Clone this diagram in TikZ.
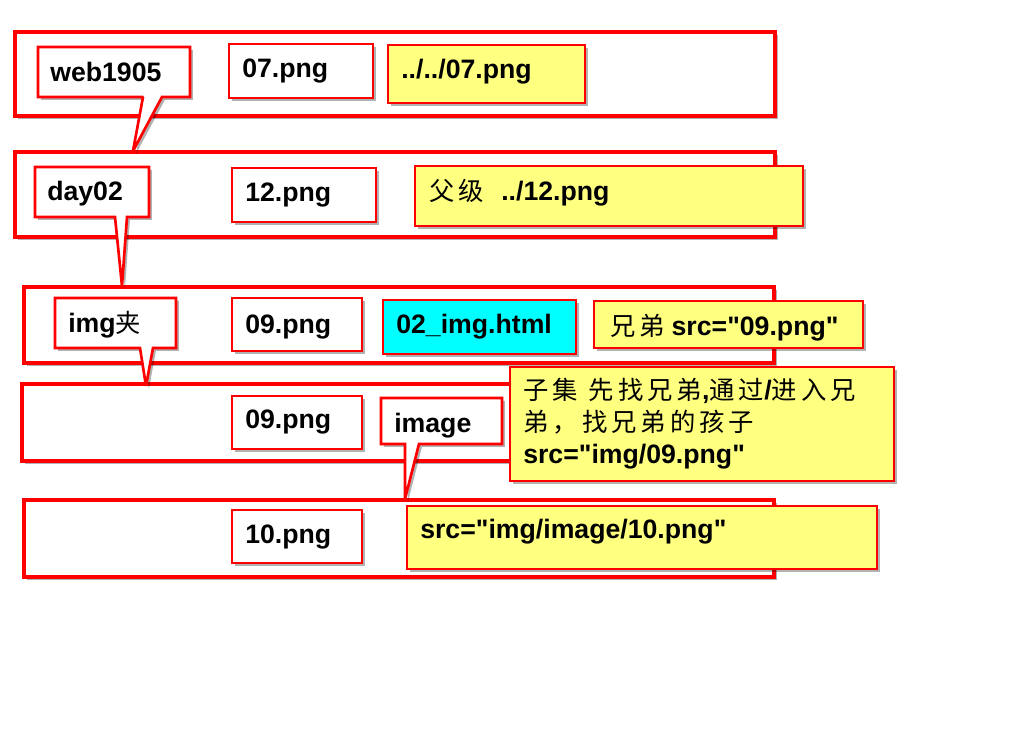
\documentclass[tikz,border=0pt]{standalone}
\usepackage{fontspec}
\setmainfont{Liberation Sans}[Ligatures=TeXOff]
\newfontfamily\cjk{Noto Sans CJK SC}[LetterSpace=16]
\usetikzlibrary{shadows,fit}
\definecolor{boxred}{RGB}{255,0,0}
\definecolor{noteyellow}{RGB}{255,255,128}
\definecolor{cyanfill}{RGB}{0,255,255}
\tikzset{
  shade1/.style={drop shadow={shadow xshift=2.2pt, shadow yshift=-2.2pt, opacity=0.3, fill=black}},
  rowbox/.style={draw=boxred, line width=2.3pt, fill=white, inner sep=0pt, shade1},
  wbox/.style={draw=boxred, line width=2pt, fill=white, inner sep=0pt, shade1},
  ybox/.style={wbox, fill=noteyellow},
  cbox/.style={wbox, fill=cyanfill},
  callout/.style={draw=boxred, line width=2pt, fill=white, line join=miter, miter limit=1.5, shade1},
  txt/.style={anchor=base west, inner sep=0pt, font=\fontsize{20}{24}\selectfont\bfseries},
  ctxt/.style={anchor=base west, inner sep=0pt, font=\fontsize{19}{24}\selectfont\cjk},
}
\begin{document}
\begin{tikzpicture}[x=0.75pt, y=-0.75pt]
\path[fill=white, use as bounding box] (0,0) rectangle (1024,728);

% rows
\node[rowbox, fit={(15,32) (775,116)}] (row1) {};
\node[rowbox, fit={(15,152) (775,237)}] (row2) {};
\node[rowbox, fit={(24,287) (774,363)}] (row3) {};
\node[rowbox, fit={(22,384) (774,461)}] (row4) {};
\node[rowbox, fit={(24,500) (774,577)}] (row5) {};

% callouts
\coordinate (tip1) at (133,151);
\draw[callout] (38,47) -- (190,47) -- (190,97) -- (162,97) -- (tip1) -- (143,97) -- (38,97) -- cycle;
\node[txt] (web) at (50,81) {web1905};

\coordinate (tip2) at (122,286);
\draw[callout] (35,167) -- (149,167) -- (149,217) -- (127,217) -- (tip2) -- (115,217) -- (35,217) -- cycle;
\node[txt] (day) at (47,200) {day02};

\coordinate (tip3) at (146,386);
\draw[callout] (55,298) -- (176,298) -- (176,348) -- (153,348) -- (tip3) -- (140,348) -- (55,348) -- cycle;
\node[txt] (imgj) at (68,332) {img{\mdseries\cjk\fontsize{19}{24}\selectfont 夹}};

\coordinate (tip4) at (405,499);
\draw[callout] (381,398) -- (502,398) -- (502,444) -- (419,444) -- (tip4) -- (405,444) -- (381,444) -- cycle;
\node[txt] (imagec) at (394,432) {image};

% row 1
\node[wbox, fit={(229,44) (373,98)}] (b07) {};
\node[txt] (t07) at (242,77) {07.png};
\node[ybox, fit={(388,45) (585,103)}] (y07) {};
\node[txt] (ty07) at (401,78) {../../07.png};

% row 2
\node[wbox, fit={(232,168) (376,222)}] (b12) {};
\node[txt] (t12) at (245,201) {12.png};
\node[ybox, fit={(415,166) (803,226)}] (y12) {};
\node[txt] (ty12) at (429,200) {{\mdseries\cjk\fontsize{19}{24}\selectfont 父级}\hspace{13pt}../12.png};

% row 3
\node[wbox, fit={(232,298) (362,351)}] (b09a) {};
\node[txt] (t09a) at (245,333) {09.png};
\node[cbox, fit={(383,300) (576,354)}] (html) {};
\node[txt] (thtml) at (396,333) {02\_img.html};
\node[ybox, fit={(594,301) (863,348)}] (ysib) {};
\node[txt] (tsib) at (610,335) {{\mdseries\cjk\fontsize{19}{24}\selectfont 兄弟}\hspace{5pt}src="09.png"};

% row 4
\node[wbox, fit={(232,396) (362,449)}] (b09b) {};
\node[txt] (t09b) at (245,428) {09.png};
\node[ybox, fit={(510,367) (894,481)}] (ychild) {};
\node[ctxt] (tc1) at (523,399) {子集\hspace{8pt}先找兄弟{\bfseries\rmfamily\fontsize{20}{24}\selectfont ,}通过{\bfseries\rmfamily\fontsize{20}{24}\selectfont /}进入兄};
\node[ctxt] (tc2) at (523,431) {弟，找兄弟的孩子};
\node[txt] (tc3) at (523,463) {src="img/09.png"};

% row 5
\node[wbox, fit={(232,510) (362,563)}] (b10) {};
\node[txt] (t10) at (245,543) {10.png};
\node[ybox, fit={(407,506) (877,569)}] (y10) {};
\node[txt] (ty10) at (420,538) {src="img/image/10.png"};
\end{tikzpicture}
\end{document}
